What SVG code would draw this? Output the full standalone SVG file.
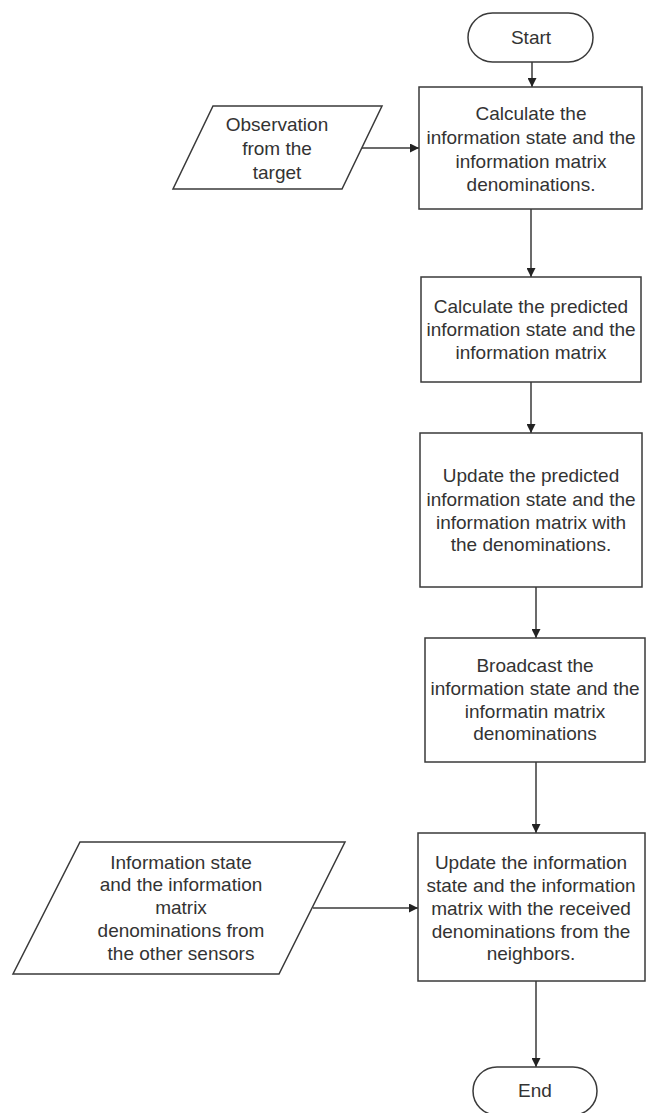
<svg xmlns="http://www.w3.org/2000/svg" width="646" height="1113" viewBox="0 0 646 1113">
<defs>
<style>
.shape{fill:#fff;stroke:#3a3a3a;stroke-width:1.5}
.conn{fill:none;stroke:#3a3a3a;stroke-width:1.5}
text{font-family:"Liberation Sans",Arial,sans-serif;font-size:19px;fill:#333;text-anchor:middle}
</style>
<marker id="arr" viewBox="0 0 10 10" refX="10" refY="5" markerWidth="9" markerHeight="9" markerUnits="userSpaceOnUse" orient="auto">
<path d="M0,0 L10,5 L0,10 z" fill="#222"/>
</marker>
</defs>
<rect width="646" height="1113" fill="#fff"/>
<g id="connectors">
<line class="conn" x1="532" y1="62" x2="532" y2="87" marker-end="url(#arr)"/>
<line class="conn" x1="362" y1="148" x2="419" y2="148" marker-end="url(#arr)"/>
<line class="conn" x1="531" y1="209" x2="531" y2="277" marker-end="url(#arr)"/>
<line class="conn" x1="531" y1="382" x2="531" y2="433" marker-end="url(#arr)"/>
<line class="conn" x1="536" y1="587" x2="536" y2="638" marker-end="url(#arr)"/>
<line class="conn" x1="536" y1="762" x2="536" y2="833" marker-end="url(#arr)"/>
<line class="conn" x1="313" y1="908" x2="418" y2="908" marker-end="url(#arr)"/>
<line class="conn" x1="536" y1="981" x2="536" y2="1067" marker-end="url(#arr)"/>
</g>
<g id="start">
<rect class="shape" x="468" y="13" width="125" height="49" rx="24.5"/>
<text x="531" y="44">Start</text>
</g>
<g id="observation">
<polygon class="shape" points="213,106 382,106 342,189 173,189"/>
<text x="277" y="131">Observation</text>
<text x="277" y="155">from the</text>
<text x="277" y="179">target</text>
</g>
<g id="step1">
<rect class="shape" x="419" y="87" width="223" height="122"/>
<text x="531" y="120">Calculate the</text>
<text x="531" y="144">information state and the</text>
<text x="531" y="168">information matrix</text>
<text x="531" y="191">denominations.</text>
</g>
<g id="step2">
<rect class="shape" x="421" y="277" width="220" height="105"/>
<text x="531" y="313">Calculate the predicted</text>
<text x="531" y="336">information state and the</text>
<text x="531" y="359">information matrix</text>
</g>
<g id="step3">
<rect class="shape" x="420" y="433" width="222" height="154"/>
<text x="531" y="482">Update the predicted</text>
<text x="531" y="506">information state and the</text>
<text x="531" y="529">information matrix with</text>
<text x="531" y="551">the denominations.</text>
</g>
<g id="step4">
<rect class="shape" x="425" y="638" width="220" height="124"/>
<text x="535" y="672">Broadcast the</text>
<text x="535" y="695">information state and the</text>
<text x="535" y="718">informatin matrix</text>
<text x="535" y="740">denominations</text>
</g>
<g id="others">
<polygon class="shape" points="80,842 345,842 279,974 13,974"/>
<text x="181" y="869">Information state</text>
<text x="181" y="891">and the information</text>
<text x="181" y="914">matrix</text>
<text x="181" y="937">denominations from</text>
<text x="181" y="960">the other sensors</text>
</g>
<g id="step5">
<rect class="shape" x="418" y="833" width="227" height="148"/>
<text x="531" y="869">Update the information</text>
<text x="531" y="892">state and the information</text>
<text x="531" y="915">matrix with the received</text>
<text x="531" y="938">denominations from the</text>
<text x="531" y="960">neighbors.</text>
</g>
<g id="end">
<rect class="shape" x="473" y="1067" width="124" height="48" rx="24"/>
<text x="535" y="1097">End</text>
</g>
</svg>
